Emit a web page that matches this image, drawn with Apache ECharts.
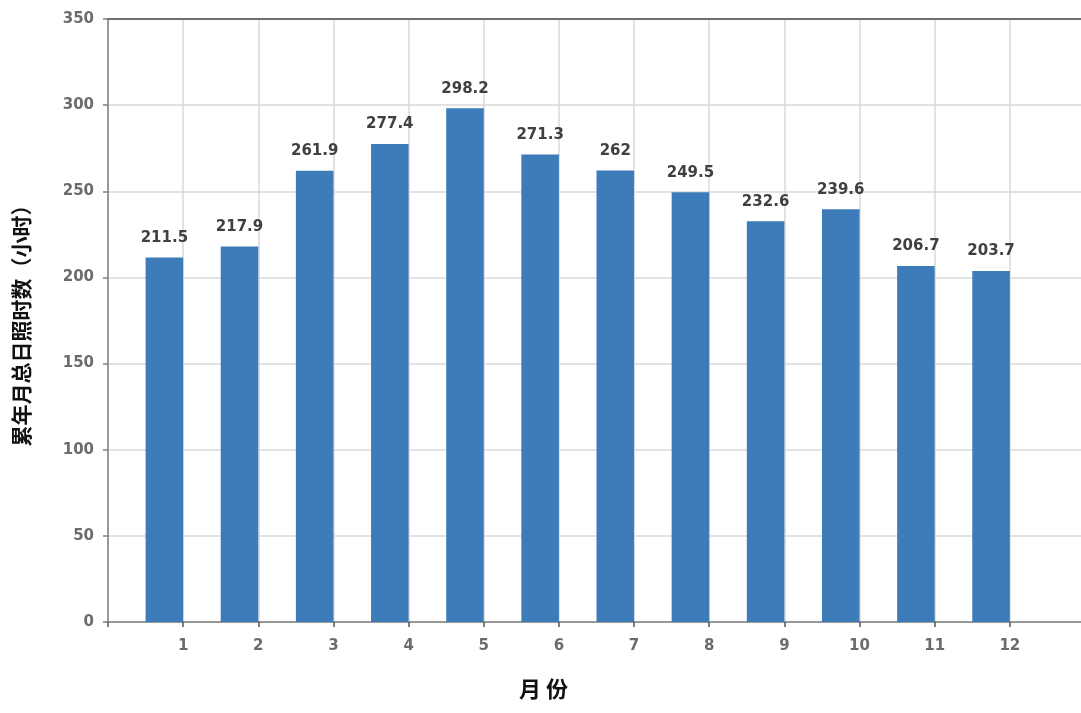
<!DOCTYPE html>
<html>
<head>
<meta charset="utf-8">
<script src="https://cdn.jsdelivr.net/npm/echarts@6/dist/echarts.min.js"></script>
<style>
html,body{margin:0;padding:0;background:#fff;}
#c{width:1081px;height:713px;}
</style>
</head>
<body>
<div id="c"></div>
<script>
const months = [1, 2, 3, 4, 5, 6, 7, 8, 9, 10, 11, 12];
const sunshineHours = [211.5, 217.9, 261.9, 277.4, 298.2, 271.3, 262, 249.5, 232.6, 239.6, 206.7, 203.7];
const yTicks = [0, 50, 100, 150, 200, 250, 300, 350];
const xAxisName = '月 份';
const yAxisName = '累年月总日照时数（小时）';

const barColor = '#3e7cb9';
const axisColor = '#808080';
const gridColor = '#d9d9d9';
const labelFont = '"DejaVu Sans", "Liberation Sans", sans-serif';

const chart = echarts.init(document.getElementById('c'), null, {renderer: 'canvas'});
const data = months.map((m, i) => [m, sunshineHours[i]]);

chart.setOption({
  animation: false,
  backgroundColor: '#fff',
  grid: {left: 108, right: -4, top: 19, bottom: 91, containLabel: false, outerBoundsMode: 'none'},
  xAxis: [{
    type: 'value',
    min: 0, max: 13, interval: 1,
    position: 'bottom',
    axisLine: {show: true, lineStyle: {color: axisColor, width: 1.5}},
    axisTick: {show: true, length: 5, lineStyle: {color: '#555', width: 1.5}},
    axisLabel: {
      margin: 17,
      color: '#6b6b6b', fontSize: 15, fontWeight: 'bold', fontFamily: labelFont,
      formatter: v => (months.indexOf(v) >= 0 ? String(v) : '')
    },
    splitLine: {show: true, lineStyle: {color: gridColor, width: 1.5}}
  }, {
    type: 'value',
    min: 0, max: 13, interval: 1,
    position: 'top',
    axisLine: {show: true, lineStyle: {color: '#707070', width: 2}},
    axisTick: {show: false},
    axisLabel: {show: false},
    splitLine: {show: false}
  }],
  yAxis: {
    type: 'value',
    min: yTicks[0], max: yTicks[yTicks.length - 1], interval: 50,
    name: yAxisName,
    nameLocation: 'middle',
    nameGap: 76,
    nameRotate: 90,
    nameTextStyle: {color: '#111', fontSize: 21, fontWeight: 'bold', fontFamily: '"Noto Sans CJK SC", sans-serif'},
    axisLine: {show: true, lineStyle: {color: axisColor, width: 1.5}},
    axisTick: {show: true, length: 5, inside: false, lineStyle: {color: axisColor, width: 1.5}},
    axisLabel: {margin: 14, color: '#6b6b6b', fontSize: 15, fontWeight: 'bold', fontFamily: labelFont},
    splitLine: {show: true, lineStyle: {color: gridColor, width: 1.5}}
  },
  graphic: [{
    type: 'text',
    left: 519, top: 678,
    style: {text: xAxisName, fill: '#111', font: 'bold 22px "Noto Sans CJK SC", sans-serif'}
  }],
  series: [{
    type: 'custom',
    xAxisIndex: 0,
    data: data,
    encode: {x: 0, y: 1},
    renderItem: function (params, api) {
      const m = api.value(0), v = api.value(1);
      const tr = api.coord([m, v]);
      const bl = api.coord([m - 0.5, 0]);
      return {
        type: 'group',
        children: [{
          type: 'rect',
          shape: {x: bl[0], y: tr[1], width: tr[0] - bl[0], height: bl[1] - tr[1]},
          style: {fill: barColor}
        }, {
          type: 'text',
          x: (bl[0] + tr[0]) / 2,
          y: tr[1] - 12,
          style: {
            text: String(v),
            textAlign: 'center',
            textVerticalAlign: 'bottom',
            fill: '#404040',
            font: 'bold 15px ' + labelFont
          }
        }]
      };
    }
  }]
});
</script>
</body>
</html>
